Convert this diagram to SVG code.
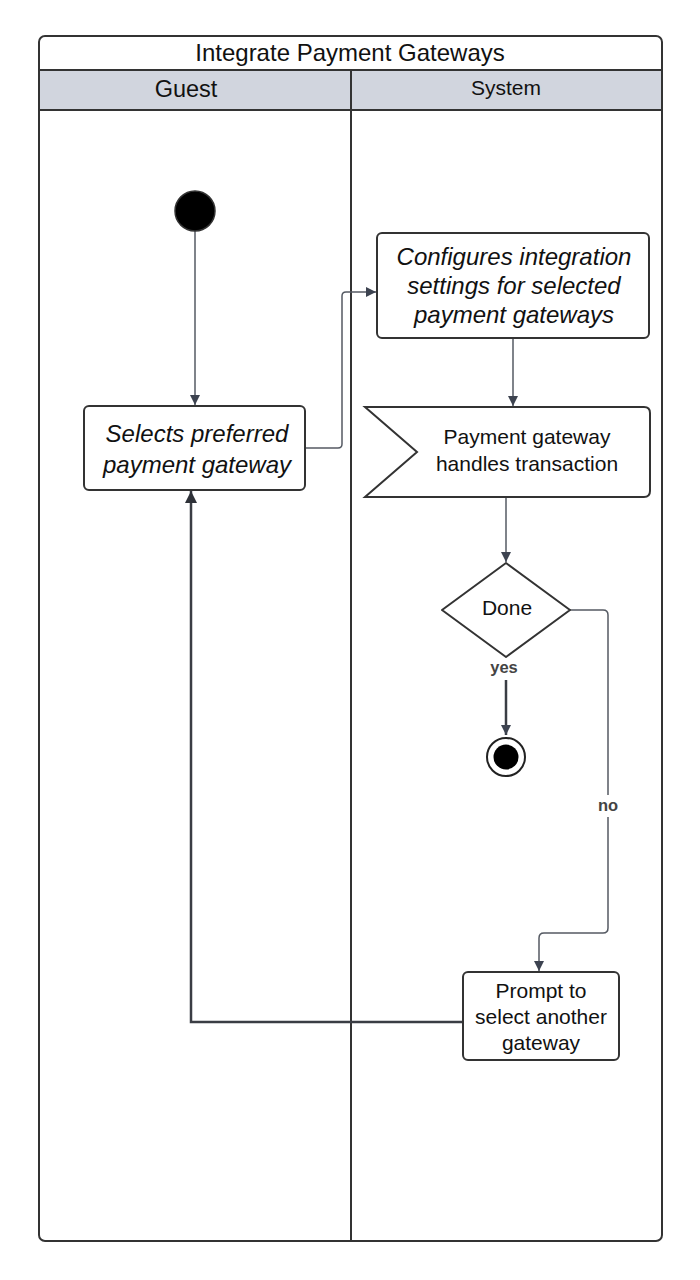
<svg xmlns="http://www.w3.org/2000/svg" width="700" height="1280" viewBox="0 0 700 1280">
<defs>
<style>
text{font-family:"Liberation Sans",Arial,sans-serif;fill:#111;text-anchor:middle}
.frame{fill:#fff;stroke:#333;stroke-width:2}
.node{fill:#fff;stroke:#333;stroke-width:2}
.conn{fill:none;stroke:#555a63;stroke-width:1.5}
.thick{fill:none;stroke:#3a3d44;stroke-width:2.5}
.it{font-style:italic;font-size:24px}
.n{font-size:21px}
.lbl{font-size:16.5px;font-weight:bold;fill:#444}
</style>
<marker id="arr" viewBox="0 0 10 10" refX="10" refY="5" markerWidth="10" markerHeight="10" markerUnits="userSpaceOnUse" orient="auto">
<path d="M0,0 L10,5 L0,10 Z" fill="#3d4350"/>
</marker>
<marker id="arrL" viewBox="0 0 10 10" refX="10" refY="5" markerWidth="12" markerHeight="12" markerUnits="userSpaceOnUse" orient="auto">
<path d="M0,0 L10,5 L0,10 Z" fill="#2e3138"/>
</marker>
</defs>
<g id="pool">
<rect class="frame" x="39" y="36" width="623" height="1205" rx="6"/>
<rect x="40" y="71" width="621" height="39" fill="#d1d5de"/>
<line x1="39" y1="70" x2="662" y2="70" stroke="#333" stroke-width="2"/>
<line x1="39" y1="110" x2="662" y2="110" stroke="#333" stroke-width="2"/>
<line x1="351" y1="70" x2="351" y2="1241" stroke="#333" stroke-width="2"/>
<text x="350" y="61" font-size="24">Integrate Payment Gateways</text>
<text x="186" y="97" font-size="23.5">Guest</text>
<text x="506" y="95" font-size="21">System</text>
</g>
<g id="connectors">
<line class="conn" x1="195" y1="231" x2="195" y2="405" marker-end="url(#arr)"/>
<path class="conn" d="M305,448 H338 Q342,448 342,444 V296 Q342,292 346,292 H376" marker-end="url(#arr)"/>
<line class="conn" x1="513" y1="339" x2="513" y2="406" marker-end="url(#arr)"/>
<line class="conn" x1="506" y1="497" x2="506" y2="562" marker-end="url(#arr)"/>
<line class="thick" x1="506" y1="680" x2="506" y2="735" marker-end="url(#arr)"/>
<path class="conn" d="M570,610 H603 Q608,610 608,615 V928 Q608,933 603,933 H544 Q539,933 539,938 V971" marker-end="url(#arr)"/>
<path class="thick" d="M463,1022 H191 V491" marker-end="url(#arrL)"/>
</g>
<g id="start">
<circle cx="195" cy="211" r="20" fill="#000" stroke="#333" stroke-width="1.5"/>
</g>
<g id="selects">
<rect class="node" x="84" y="406" width="221" height="84" rx="5"/>
<text class="it" x="197" y="442">Selects preferred</text>
<text class="it" x="197" y="473">payment gateway</text>
</g>
<g id="configures">
<rect class="node" x="377" y="233" width="272" height="105" rx="5"/>
<text class="it" x="514" y="265">Configures integration</text>
<text class="it" x="514" y="294">settings for selected</text>
<text class="it" x="514" y="323">payment gateways</text>
</g>
<g id="handles">
<path class="node" d="M365,407 H644 Q650,407 650,413 V491 Q650,497 644,497 H365 L417,452 Z"/>
<text class="n" x="527" y="444">Payment gateway</text>
<text class="n" x="527" y="471">handles transaction</text>
</g>
<g id="done">
<path class="node" d="M506,563 L570,610 L506,657 L442,610 Z" stroke-linejoin="round"/>
<text class="n" x="507" y="615">Done</text>
<text class="lbl" x="504" y="673">yes</text>
</g>
<g id="end">
<circle cx="506" cy="757" r="19" fill="#fff" stroke="#222" stroke-width="2"/>
<circle cx="506" cy="757" r="12.5" fill="#000"/>
</g>
<g id="nolabel">
<rect x="594" y="795" width="28" height="22" fill="#fff"/>
<text class="lbl" x="608" y="811">no</text>
</g>
<g id="prompt">
<rect class="node" x="463" y="972" width="156" height="88" rx="5"/>
<text class="n" x="541" y="998">Prompt to</text>
<text class="n" x="541" y="1024">select another</text>
<text class="n" x="541" y="1050">gateway</text>
</g>
</svg>
